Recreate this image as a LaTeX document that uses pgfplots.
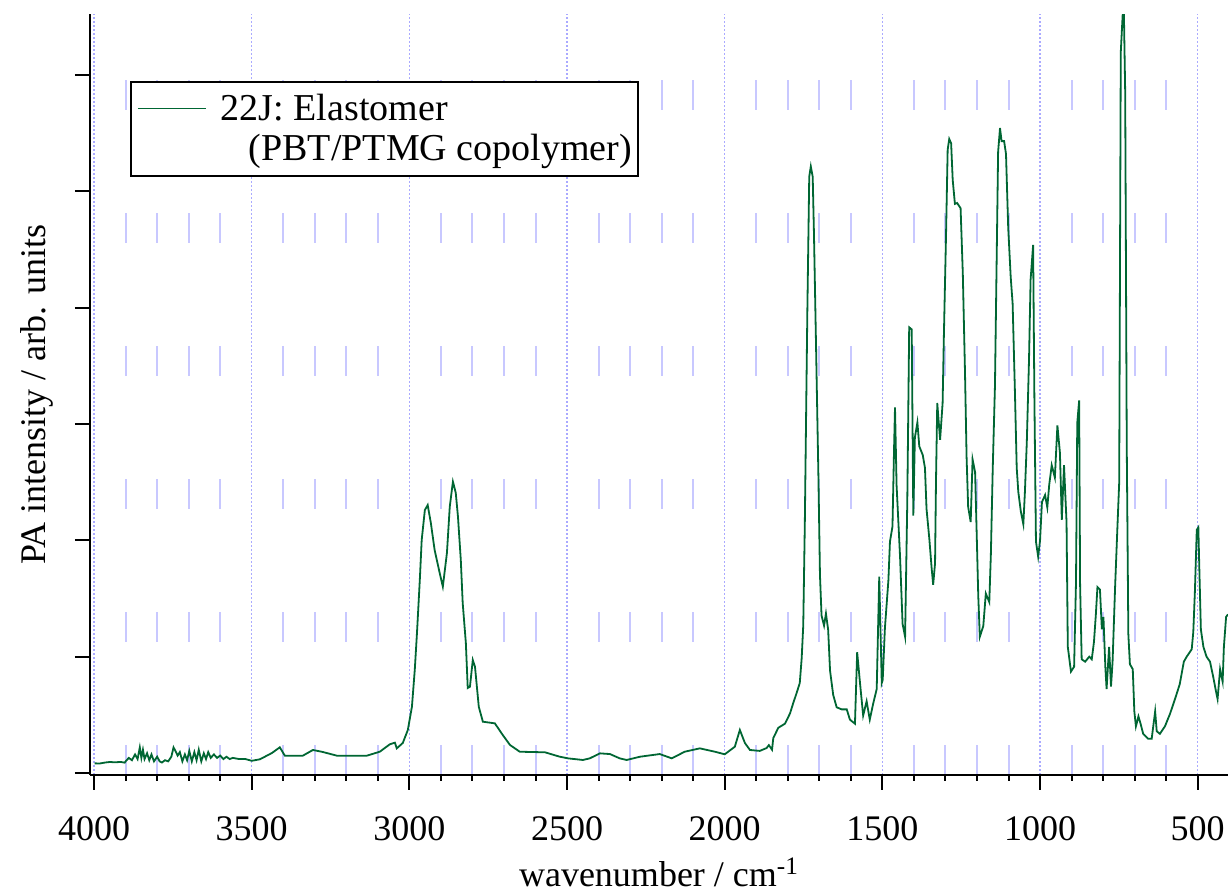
\documentclass[border=0pt]{standalone}
\usepackage{fontspec}
\setmainfont{Liberation Serif}
\usepackage{pgfplots}
\pgfplotsset{compat=1.18}
\definecolor{spec}{RGB}{0,102,51}
\definecolor{gridmaj}{RGB}{170,170,255}
\definecolor{gridmin}{RGB}{200,200,255}
\begin{document}
\begin{tikzpicture}
\begin{axis}[
  scale only axis, width=569pt, height=380.5pt,
  at={(0,0)}, anchor=south west,
  x dir=reverse,
  xmin=404, xmax=4013, ymin=-0.017, ymax=6.526,
  axis x line*=bottom, axis y line*=left,
  axis line style={line width=1pt, black},
  xtick={500,1000,...,4000}, minor x tick num=4,
  ytick={0,1,...,6}, yticklabels={},
  tick align=outside, major tick length=7.5pt, minor tick length=3pt,
  every tick/.style={black, line width=1pt},
  xmajorgrids, xminorgrids,
  major grid style={gridmaj, line width=0.6pt, dash pattern=on 0.8pt off 1.2pt},
  minor grid style={gridmin, line width=1pt, dash pattern=on 15pt off 51.5pt},
  /pgf/number format/assume math mode=true,
  xticklabel style={font=\fontsize{18}{20}\selectfont, /pgf/number format/1000 sep={}, yshift=-10pt},
  xlabel={wavenumber / cm\textsuperscript{-1}},
  xlabel style={font=\fontsize{18}{20}\selectfont, at={(axis description cs:0.5,-0.147)}, anchor=base},
  ylabel={PA intensity / arb. units},
  ylabel style={font=\fontsize{18}{20}\selectfont, at={(axis description cs:-0.0465,0.5)}, anchor=center},
  legend image code/.code={\draw[#1] (2.5pt,0pt) -- (36.5pt,0pt); \path (41.5pt,0pt);},
  legend cell align=left,
  legend style={at={(axis description cs:0,1)}, anchor=north west, xshift=20pt, yshift=-33.5pt,
    draw=black, line width=0.9pt, fill=white, font=\fontsize{19}{22}\selectfont,
    inner xsep=1pt, inner ysep=4pt, row sep=1.5pt},
]
\addplot[spec, line width=0.9pt] coordinates {
(3998,0.083)(3982,0.082)(3965,0.09)(3950,0.095)(3935,0.092)(3915,0.095)(3903,0.089)(3900,0.10)(3890,0.13)(3880,0.11)(3870,0.16)(3862,0.12)(3855,0.22)(3850,0.13)(3845,0.20)(3840,0.12)(3832,0.17)(3825,0.11)(3818,0.16)(3810,0.10)(3800,0.14)(3792,0.10)(3785,0.09)(3775,0.11)(3765,0.10)(3755,0.14)(3748,0.22)(3742,0.19)(3735,0.15)(3728,0.18)(3720,0.10)(3712,0.16)(3705,0.11)(3698,0.19)(3690,0.10)(3682,0.18)(3675,0.11)(3668,0.20)(3660,0.10)(3652,0.17)(3645,0.12)(3638,0.18)(3630,0.13)(3620,0.16)(3610,0.13)(3600,0.15)(3590,0.12)(3580,0.14)(3570,0.12)(3560,0.13)(3540,0.12)(3520,0.12)(3500,0.105)(3474,0.118)(3436,0.172)(3411,0.221)(3395,0.149)(3338,0.149)(3306,0.198)(3275,0.181)(3230,0.149)(3135,0.149)(3094,0.183)(3062,0.247)(3046,0.261)(3040,0.212)(3021,0.258)(3005,0.370)(2992,0.570)(2983,0.886)(2976,1.204)(2967,1.660)(2961,2.004)(2951,2.261)(2942,2.304)(2932,2.150)(2920,1.917)(2904,1.720)(2894,1.602)(2881,1.892)(2872,2.290)(2862,2.505)(2853,2.408)(2846,2.204)(2837,1.831)(2831,1.462)(2821,1.118)(2815,0.731)(2808,0.742)(2799,0.972)(2792,0.914)(2786,0.742)(2780,0.570)(2767,0.441)(2729,0.427)(2704,0.327)(2681,0.241)(2650,0.183)(2570,0.178)(2523,0.140)(2497,0.126)(2450,0.112)(2428,0.126)(2396,0.169)(2364,0.163)(2333,0.126)(2311,0.112)(2269,0.140)(2206,0.163)(2168,0.126)(2127,0.183)(2079,0.212)(2031,0.183)(2000,0.161)(1968,0.226)(1952,0.370)(1936,0.258)(1920,0.198)(1889,0.19)(1867,0.215)(1860,0.24)(1850,0.20)(1846,0.301)(1830,0.389)(1809,0.424)(1793,0.512)(1783,0.599)(1772,0.688)(1762,0.774)(1756,0.985)(1751,1.267)(1746,2.144)(1738,3.969)(1732,5.127)(1727,5.215)(1721,5.127)(1717,4.635)(1711,3.757)(1703,2.565)(1698,1.705)(1693,1.354)(1685,1.267)(1679,1.371)(1672,1.231)(1666,0.880)(1656,0.671)(1645,0.565)(1629,0.547)(1613,0.547)(1603,0.459)(1587,0.424)(1580,1.039)(1571,0.774)(1561,0.494)(1550,0.617)(1540,0.459)(1529,0.599)(1518,0.722)(1510,1.688)(1502,0.774)(1499,0.800)(1492,1.247)(1481,1.655)(1476,1.990)(1468,2.120)(1463,2.790)(1460,3.144)(1455,2.474)(1444,1.860)(1436,1.283)(1428,1.171)(1421,2.344)(1415,3.832)(1407,3.814)(1402,2.213)(1397,2.883)(1389,3.014)(1383,2.809)(1372,2.734)(1365,2.623)(1360,2.270)(1351,2.009)(1344,1.767)(1339,1.618)(1333,1.804)(1330,2.511)(1326,3.181)(1317,2.865)(1309,3.181)(1305,3.758)(1298,4.652)(1293,5.359)(1288,5.451)(1282,5.414)(1277,5.099)(1270,4.893)(1263,4.901)(1252,4.856)(1245,4.298)(1238,3.442)(1233,2.717)(1228,2.287)(1220,2.158)(1214,2.697)(1206,2.586)(1201,2.064)(1196,1.525)(1191,1.171)(1180,1.264)(1172,1.543)(1161,1.469)(1156,1.879)(1150,2.623)(1143,3.330)(1138,4.335)(1133,5.340)(1127,5.545)(1122,5.433)(1114,5.433)(1108,5.322)(1101,4.689)(1093,4.261)(1087,4.037)(1080,3.311)(1074,2.623)(1069,2.418)(1061,2.250)(1053,2.139)(1048,2.418)(1042,2.846)(1035,3.554)(1030,4.242)(1022,4.540)(1018,3.237)(1013,1.990)(1006,1.860)(1000,2.00)(994,2.33)(984,2.390)(977,2.283)(971,2.476)(963,2.647)(953,2.540)(945,2.989)(937,2.754)(931,2.176)(924,2.647)(916,2.155)(912,1.085)(902,0.872)(892,0.914)(886,1.642)(882,3.010)(876,3.203)(873,1.620)(868,0.978)(857,0.957)(844,1.000)(836,0.978)(829,1.128)(823,1.364)(818,1.599)(810,1.577)(804,1.235)(799,1.342)(793,0.914)(789,0.722)(781,1.085)(775,0.743)(770,0.957)(762,1.599)(755,2.090)(749,2.497)(744,6.198)(738,6.518)(734,6.518)(730,5.855)(725,2.796)(720,1.193)(715,0.935)(706,0.893)(701,0.530)(696,0.401)(688,0.487)(681,0.422)(673,0.337)(657,0.294)(646,0.294)(641,0.401)(635,0.530)(630,0.359)(620,0.337)(604,0.401)(588,0.508)(572,0.636)(557,0.764)(544,0.957)(535,1.000)(519,1.064)(514,1.214)(509,1.556)(503,2.090)(498,2.112)(495,1.770)(490,1.235)(482,1.085)(472,1.000)(461,0.957)(451,0.829)(442,0.701)(437,0.636)(429,0.893)(421,0.786)(417,1.085)(410,1.342)(404,1.364)
};
\addlegendentry{22J: Elastomer}
\addlegendimage{empty legend}
\addlegendentry{\hspace*{14pt}(PBT/PTMG copolymer)}
\end{axis}
\pgfresetboundingbox
\path (-45pt,-58.5pt) rectangle (569pt,387.5pt);
\end{tikzpicture}
\end{document}
